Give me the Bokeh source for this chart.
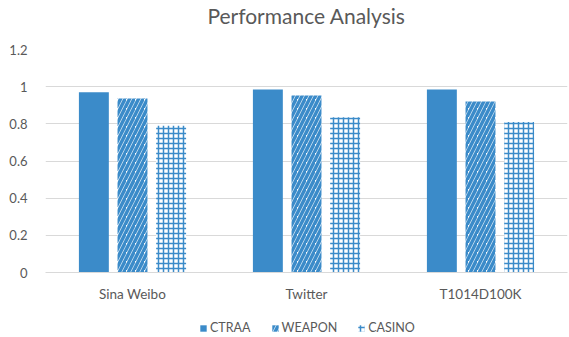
from bokeh.plotting import figure
from bokeh.models import ColumnDataSource, FactorRange, Range1d, FixedTicker, Legend, LegendItem, Title
from bokeh.layouts import column
from bokeh.transform import dodge
from bokeh.embed import file_html
from bokeh.resources import INLINE

datasets = ["Sina Weibo", "Twitter", "T1014D100K"]
ctraa = [0.97, 0.985, 0.985]
weapon = [0.936, 0.953, 0.92]
casino = [0.79, 0.836, 0.81]
y_ticks = [0, 0.2, 0.4, 0.6, 0.8, 1.0, 1.2]
y_labels = ["0", "0.2", "0.4", "0.6", "0.8", "1", "1.2"]
series_names = ["CTRAA", "WEAPON", "CASINO"]
title_text = "Performance Analysis"

src = ColumnDataSource(dict(ds=datasets, ctraa=ctraa, weapon=weapon, casino=casino))

BLUE = "#3B8BC9"
GRAY = "#595959"
FONT = "Lato"

styles = [
    dict(fill_color=BLUE, line_color=None),
    dict(fill_color="white", line_color=None, hatch_pattern="right_diagonal_line",
         hatch_color=BLUE, hatch_scale=9, hatch_weight=3.5),
    dict(fill_color="white", line_color=None, hatch_pattern="cross",
         hatch_color=BLUE, hatch_scale=5, hatch_weight=1.5),
]

p = figure(frame_width=522, frame_height=223, x_range=FactorRange(*datasets, range_padding=0),
           y_range=Range1d(0, 1.2), output_backend="svg", toolbar_location=None,
           min_border_left=45, min_border_right=2, min_border_top=0, min_border_bottom=0)
p.outline_line_color = None

p.title.text = title_text
p.title.align = "center"
p.title.offset = -8
p.title.text_font = FONT
p.title.text_font_size = "21px"
p.title.text_font_style = "normal"
p.title.text_color = GRAY
p.title.standoff = 0

spacer = Title(text=" ", text_font_size="9px")
p.add_layout(spacer, "above")

cols = ["ctraa", "weapon", "casino"]
offsets = [-0.222, 0.0, 0.222]
for col, off, st in zip(cols, offsets, styles):
    p.vbar(x=dodge("ds", off, range=p.x_range), top=col, width=0.172, source=src, **st)

p.yaxis.ticker = FixedTicker(ticks=y_ticks)
p.yaxis.major_label_overrides = {t: l for t, l in zip(y_ticks, y_labels)}
p.yaxis.axis_line_color = None
p.yaxis.major_tick_line_color = None
p.yaxis.minor_tick_line_color = None
p.yaxis.major_label_text_font = FONT
p.yaxis.major_label_text_font_size = "13px"
p.yaxis.major_label_text_color = GRAY
p.yaxis.major_label_standoff = 12

p.xaxis.axis_line_color = "#D9D9D9"
p.xaxis.major_tick_line_color = None
p.xaxis.minor_tick_line_color = None
p.xaxis.major_label_text_font = FONT
p.xaxis.major_label_text_font_size = "13.5px"
p.xaxis.major_label_text_color = GRAY
p.xaxis.major_label_standoff = 7

p.xgrid.grid_line_color = None
p.ygrid.grid_line_color = "#D9D9D9"
p.ygrid.ticker = FixedTicker(ticks=y_ticks)

# legend strip
lf = figure(width=569, height=36, x_range=Range1d(0, 1), y_range=Range1d(0, 1),
            output_backend="svg", toolbar_location=None, x_axis_type=None, y_axis_type=None,
            min_border=0)
lf.outline_line_color = None
lf.grid.visible = False
items = []
for name, st in zip(series_names, styles):
    r = lf.vbar(x=[float("nan")], top=[float("nan")], width=0.1, **st)
    items.append(LegendItem(label=name, renderers=[r]))
legend = Legend(items=items, orientation="horizontal", location=(154, 5),
                label_text_font=FONT, label_text_font_size="12.5px", label_text_color=GRAY,
                glyph_width=8, glyph_height=8, spacing=20, label_standoff=3,
                border_line_color=None, background_fill_alpha=0, padding=0, margin=0)
lf.add_layout(legend, "center")

layout = column(p, lf, spacing=0)
open("out.html", "w").write(file_html(layout, INLINE))
